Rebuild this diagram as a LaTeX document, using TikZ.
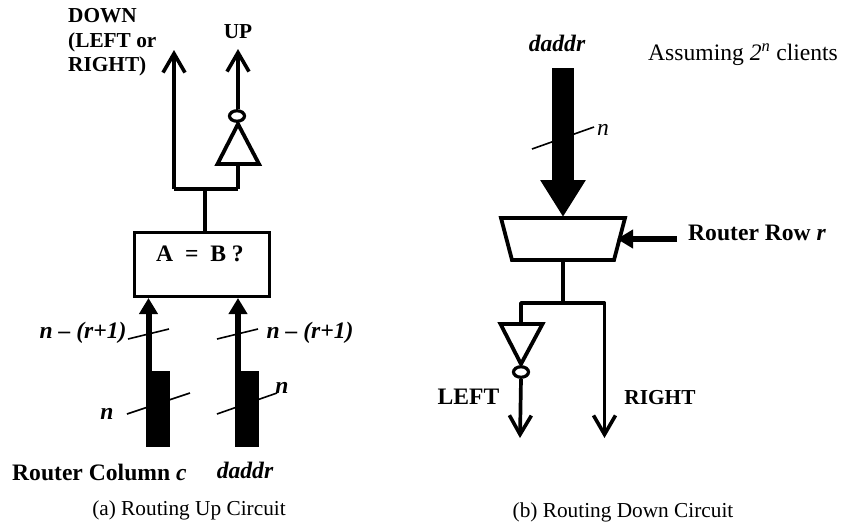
\documentclass[tikz,border=0pt]{standalone}
\usepackage{fontspec}
\setmainfont{Liberation Serif}
\usetikzlibrary{arrows.meta}
\usetikzlibrary{shapes.geometric}
\tikzset{
  wireLine/.style={line width=3.7pt},
  openArrow/.style={wireLine, -{Straight Barb[length=19pt,width=22pt,line width=3.6pt]}},
  fatArrow/.style={line width=6pt, -{Triangle[length=16pt,width=18pt]}},
  busBar/.style={fill=black, draw=none},
  tickLine/.style={line width=1.6pt},
  gateShape/.style={line width=3.8pt, line join=miter},
  bubbleShape/.style={draw, line width=3.2pt, ellipse, inner sep=0pt, minimum width=15pt, minimum height=10.5pt},
  boldLabel/.style={inner sep=0pt, font=\fontsize{23.6}{24.5}\selectfont\bfseries},
  smallBold/.style={inner sep=0pt, font=\fontsize{21.3}{24.5}\selectfont\bfseries},
  ibLabel/.style={inner sep=0pt, font=\fontsize{23.6}{24.5}\selectfont\bfseries\itshape},
  capLabel/.style={inner sep=0pt, font=\fontsize{21.3}{24}\selectfont}
}
\begin{document}
\begin{tikzpicture}[x=1pt,y=-1pt]
  \useasboundingbox (0,0) rectangle (841,523);
  % (a) comparator and its two inputs
  \node[draw, line width=3pt, minimum width=135pt, minimum height=64pt, inner sep=0pt] (cmpBox) at (202,264.5) {};
  \node[boldLabel] (cmpText) at (200,254) {A\ \ =\ \ B ?};
  \coordinate (inA) at (148.5,298);
  \coordinate (inB) at (238,298);
  \node[busBar, minimum width=24pt, minimum height=76pt, inner sep=0pt] (barA) at (158,409) {};
  \node[busBar, minimum width=24pt, minimum height=76pt, inner sep=0pt] (barB) at (247,409) {};
  \coordinate (footA) at (148.5,372);
  \coordinate (footB) at (238,372);
  \draw[fatArrow] (footA) -- (inA);
  \draw[fatArrow] (footB) -- (inB);
  % slashes over the buses
  \draw[tickLine] (128,339) -- (169,329);
  \draw[tickLine] (217,339) -- (258,329);
  \draw[tickLine] (127,414) -- (190,393);
  \draw[tickLine] (217,414) -- (277,393);
  % output side of the comparator
  \coordinate (joinA) at (205,189);
  \coordinate (joinLeft) at (174,189);
  \coordinate (joinRight) at (238,189);
  \coordinate (downTip) at (174,50);
  \coordinate (upTip) at (238,49);
  \draw[wireLine] (cmpBox.north -| joinA) -- (joinA);
  \draw[wireLine, line join=round] (joinRight) -- (joinLeft);
  \draw[openArrow] (joinLeft) -- (downTip);
  % inverter, apex up
  \coordinate (upBaseL) at (217.5,164);
  \coordinate (upBaseR) at (259,164);
  \coordinate (upApex) at (238,124);
  \coordinate (upBase) at (238,164);
  \draw[gateShape] (upBaseL) -- (upBaseR) -- (upApex) -- cycle;
  \node[bubbleShape] (upBubble) at (237,116) {};
  \draw[wireLine] (joinRight) -- (upBase);
  \draw[openArrow] (upBubble.north -| upTip) -- (upTip);
  % (a) labels
  \node[smallBold, align=left, anchor=west] (downText) at (68,42.5) {DOWN\\(LEFT or\\RIGHT)};
  \node[smallBold] (upText) at (238,32) {UP};
  \node[ibLabel] (widthA) at (83,333) {n -- (r+1)};
  \node[ibLabel] (widthB) at (310,333) {n -- (r+1)};
  \node[ibLabel] (nA) at (107,414) {n};
  \node[ibLabel] (nB) at (282,388) {n};
  \node[boldLabel, anchor=west] (colText) at (12,472) {Router Column \textit{c}};
  \node[ibLabel] (addrA) at (245,470) {daddr};
  \node[capLabel] (capA) at (189,510) {(a) Routing Up Circuit};
  % (b) decoder with big input bus
  \coordinate (muxTL) at (501,218);
  \coordinate (muxTR) at (625,218);
  \coordinate (muxBR) at (614,260);
  \coordinate (muxBL) at (512,260);
  \draw[gateShape] (muxTL) -- (muxTR) -- (muxBR) -- (muxBL) -- cycle;
  \coordinate (busTop) at (563,68);
  \coordinate (busTip) at (563,217);
  \draw[line width=22pt, -{Triangle[length=37pt,width=43pt]}] (busTop) -- (busTip);
  \draw[tickLine] (532,149) -- (594,127);
  \coordinate (rowStart) at (677,239);
  \coordinate (rowTip) at (617,239);
  \draw[fatArrow] (rowStart) -- (rowTip);
  % (b) outputs
  \coordinate (muxOut) at (563,260);
  \coordinate (splitMid) at (563,303);
  \coordinate (splitLeft) at (521,303);
  \coordinate (splitRight) at (604.5,303);
  \coordinate (rightTip) at (604.5,438);
  \coordinate (leftTip) at (520,438);
  \draw[wireLine] (muxOut) -- (splitMid);
  \draw[wireLine, line join=round] (splitLeft |- 324,324) -- (splitLeft) -- (splitRight);
  \draw[openArrow, line join=round] (splitMid) -- (splitRight) -- (rightTip);
  % inverter, apex down
  \coordinate (dnBaseL) at (500.5,324);
  \coordinate (dnBaseR) at (542.5,324);
  \coordinate (dnApex) at (521,364);
  \draw[gateShape] (dnBaseL) -- (dnBaseR) -- (dnApex) -- cycle;
  \node[bubbleShape] (dnBubble) at (521,372) {};
  \draw[openArrow] (dnBubble.south) -- (leftTip);
  % (b) labels
  \node[ibLabel] (addrB) at (557,43) {daddr};
  \node[capLabel, font=\fontsize{23.6}{24}\selectfont, anchor=west] (noteText) at (648,55) {Assuming \textit{2}\textsuperscript{\textit{n}} clients};
  \node[capLabel, font=\fontsize{23.6}{24}\selectfont\itshape] (nC) at (603,130) {n};
  \node[boldLabel, anchor=west] (rowText) at (688,233) {Router Row \textit{r}};
  \node[boldLabel] (leftText) at (468.5,397) {LEFT};
  \node[smallBold] (rightText) at (660,398) {RIGHT};
  \node[capLabel] (capB) at (623,512) {(b) Routing Down Circuit};
\end{tikzpicture}
\end{document}
